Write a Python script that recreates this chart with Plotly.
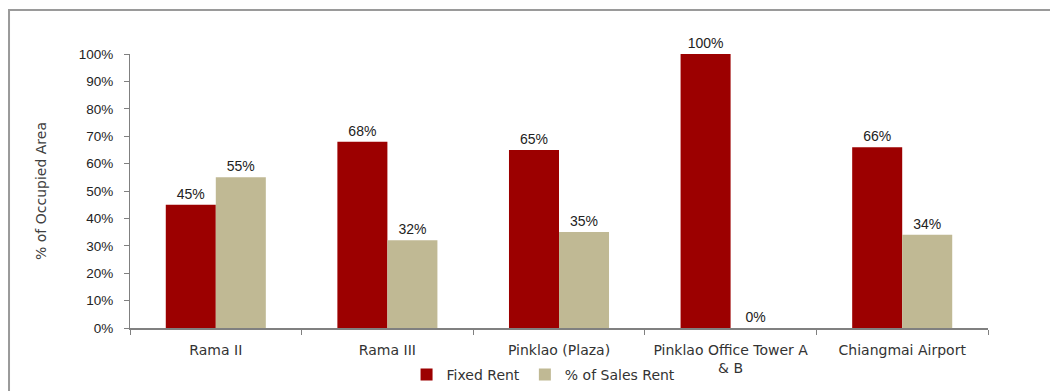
import plotly.graph_objects as go

categories = ["Rama II", "Rama III", "Pinklao (Plaza)", "Pinklao Office Tower A & B", "Chiangmai Airport"]
tick_labels = ["Rama II", "Rama III", "Pinklao (Plaza)", "Pinklao Office Tower A<br>& B", "Chiangmai Airport"]
fixed_rent = [45, 68, 65, 100, 66]
sales_rent = [55, 32, 35, 0, 34]
y_tick_vals = [0, 10, 20, 30, 40, 50, 60, 70, 80, 90, 100]
y_tick_text = ["0%", "10%", "20%", "30%", "40%", "50%", "60%", "70%", "80%", "90%", "100%"]

label_font = dict(family="Liberation Sans, Arial, sans-serif", size=14, color="#222222")
cat_font = dict(family="DejaVu Sans, sans-serif", size=14, color="#333333")

fig = go.Figure()
fig.add_trace(go.Bar(
    name="Fixed Rent", x=categories, y=fixed_rent,
    marker=dict(color="#9C0000", line=dict(width=0)),
    text=[f"{v}%" for v in fixed_rent], textposition="outside",
    textfont=label_font, cliponaxis=False, constraintext="none",
))
fig.add_trace(go.Bar(
    name="% of Sales Rent", x=categories, y=sales_rent,
    marker=dict(color="#C0B994", line=dict(width=0)),
    text=[f"{v}%" for v in sales_rent], textposition="outside",
    textfont=label_font, cliponaxis=False, constraintext="none",
))

fig.update_layout(
    width=1050, height=391,
    margin=dict(l=130, r=62, t=54, b=63, autoexpand=False),
    paper_bgcolor="white", plot_bgcolor="white",
    barmode="group", bargap=0.417, bargroupgap=0,
    showlegend=True,
    legend=dict(orientation="h", x=0.482, xanchor="center",
                yref="container", y=-0.012, yanchor="bottom",
                font=cat_font, itemwidth=30, tracegroupgap=0,
                bgcolor="rgba(0,0,0,0)"),
    xaxis=dict(
        type="category", tickvals=categories, ticktext=tick_labels,
        showline=True, linecolor="#808080", linewidth=2,
        ticks="outside", tickson="boundaries", ticklen=5, tickcolor="#808080",
        tickfont=cat_font, ticklabelstandoff=8, showgrid=False, zeroline=False,
        automargin=False,
    ),
    yaxis=dict(
        range=[0, 100], tickmode="array", tickvals=y_tick_vals, ticktext=y_tick_text,
        showline=True, linecolor="#808080", linewidth=1,
        ticks="outside", ticklen=5, tickcolor="#808080",
        tickfont=dict(family="Liberation Sans, Arial, sans-serif", size=13.5, color="#222222"),
        ticklabelstandoff=8, automargin=False,
        showgrid=False, zeroline=False,
        title=dict(text="% of Occupied Area", standoff=28,
                   font=dict(family="DejaVu Sans, sans-serif", size=14, color="#404040")),
    ),
    shapes=[dict(type="path", xref="paper", yref="paper",
                 path="M -0.141,-0.5 L -0.141,1.1606 L 1.2,1.1606",
                 line=dict(color="#9A9A9A", width=2))],
)

fig.write_html("out.html")
